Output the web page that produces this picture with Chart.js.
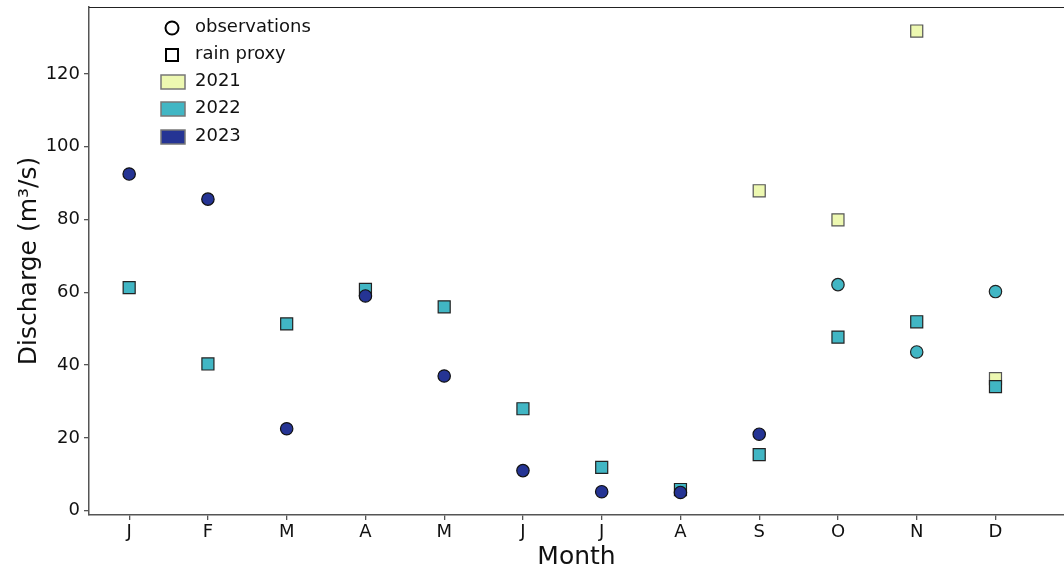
<!DOCTYPE html>
<html>
<head>
<meta charset="utf-8">
<script src="https://cdn.jsdelivr.net/npm/chart.js@4"></script>
<style>
  html, body { margin: 0; padding: 0; background: #fff; }
  #wrap { width: 1064px; height: 572px; }
</style>
</head>
<body>
<div id="wrap"><canvas id="myChart"></canvas></div>
<script>
// data
const months = ["J", "F", "M", "A", "M", "J", "J", "A", "S", "O", "N", "D"];
const yTicks = [0, 20, 40, 60, 80, 100, 120];

// observations (circles): month index -> value
const obs2023Months = [0, 1, 2, 3, 4, 5, 6, 7, 8];
const obs2023 = [92.5, 85.6, 22.5, 59.0, 37.0, 11.0, 5.2, 5.0, 21.0];
const obs2022Months = [9, 10, 11];
const obs2022 = [62.1, 43.6, 60.2];

// rain proxy (squares)
const rain2022Months = [0, 1, 2, 3, 4, 5, 6, 7, 8, 9, 10, 11];
const rain2022 = [61.3, 40.3, 51.3, 60.8, 56.0, 28.0, 11.9, 5.8, 15.4, 47.7, 51.9, 34.1];
const rain2021Months = [8, 9, 10, 11];
const rain2021 = [87.9, 79.9, 131.8, 36.3];

const yearColors = { "2021": "#edf8b1", "2022": "#41b6c4", "2023": "#253494" };
const fontFamily = "'DejaVu Sans', Verdana, sans-serif";
const axisColor = "#555";

function pts(xs, ys) {
  return xs.map((x, i) => ({ x: x, y: ys[i] }));
}

// frame round the plot area (top edge)
const framePlugin = {
  id: "frame",
  afterDraw(chart) {
    const a = chart.chartArea;
    const c = chart.ctx;
    c.save();
    c.strokeStyle = "#222";
    c.lineWidth = 1.2;
    c.beginPath();
    c.moveTo(a.left, a.top + 0.5);
    c.lineTo(a.right, a.top + 0.5);
    c.stroke();
    c.restore();
  },
};

// legend drawn inside the plot, top left
const legendPlugin = {
  id: "insideLegend",
  afterDraw(chart) {
    const c = chart.ctx;
    c.save();
    c.font = "18px " + fontFamily;
    c.fillStyle = "#111";
    c.textBaseline = "middle";
    c.textAlign = "left";
    const tx = 195;

    // observations
    c.strokeStyle = "#000";
    c.lineWidth = 2;
    c.beginPath();
    c.arc(172, 28, 6.5, 0, Math.PI * 2);
    c.stroke();
    c.fillText("observations", tx, 27);

    // rain proxy
    c.strokeRect(166, 49, 12, 12);
    c.fillText("rain proxy", tx, 54);

    // years
    const years = ["2021", "2022", "2023"];
    const ys = [82, 109, 137];
    c.lineWidth = 1.5;
    c.strokeStyle = "#777";
    years.forEach((yr, i) => {
      c.fillStyle = yearColors[yr];
      c.fillRect(161, ys[i] - 7, 24, 14);
      c.strokeRect(161, ys[i] - 7, 24, 14);
      c.fillStyle = "#111";
      c.fillText(yr, tx, ys[i] - 1);
    });
    c.restore();
  },
};

const ctx = document.getElementById("myChart").getContext("2d");

new Chart(ctx, {
  type: "scatter",
  data: {
    datasets: [
      {
        label: "rain proxy 2021",
        data: pts(rain2021Months, rain2021),
        pointStyle: "rect",
        pointRadius: 8.5,
        backgroundColor: yearColors["2021"],
        borderColor: "#555",
        borderWidth: 1.2,
        order: 4,
      },
      {
        label: "rain proxy 2022",
        data: pts(rain2022Months, rain2022),
        pointStyle: "rect",
        pointRadius: 8.5,
        backgroundColor: yearColors["2022"],
        borderColor: "#222",
        borderWidth: 1.2,
        order: 3,
      },
      {
        label: "observations 2022",
        data: pts(obs2022Months, obs2022),
        pointStyle: "circle",
        pointRadius: 6.2,
        backgroundColor: yearColors["2022"],
        borderColor: "#222",
        borderWidth: 1.2,
        order: 2,
      },
      {
        label: "observations 2023",
        data: pts(obs2023Months, obs2023),
        pointStyle: "circle",
        pointRadius: 6.2,
        backgroundColor: yearColors["2023"],
        borderColor: "#111",
        borderWidth: 1.2,
        order: 1,
      },
    ],
  },
  options: {
    responsive: true,
    maintainAspectRatio: false,
    animation: false,
    layout: { autoPadding: false, padding: { top: 7, right: 0, left: 0, bottom: 0 } },
    plugins: {
      legend: { display: false },
      tooltip: { enabled: false },
    },
    scales: {
      x: {
        type: "linear",
        min: -0.51,
        max: 11.87,
        afterBuildTicks(scale) {
          scale.ticks = months.map((m, i) => ({ value: i }));
        },
        afterFit(scale) {
          scale.height = 57;
          scale.paddingLeft = 0;
          scale.paddingRight = 0;
        },
        ticks: {
          callback: (v) => months[v],
          color: "#111",
          font: { family: fontFamily, size: 18 },
          padding: 2,
          maxRotation: 0,
          autoSkip: false,
        },
        grid: { display: true, drawOnChartArea: false, tickLength: 5, color: axisColor, lineWidth: 1.3 },
        border: { display: true, color: axisColor, width: 1.5 },
        title: {
          display: true,
          text: "Month",
          color: "#111",
          font: { family: fontFamily, size: 25 },
          padding: { top: 0, bottom: 0 },
        },
      },
      y: {
        min: -1.2,
        max: 138.4,
        afterBuildTicks(scale) {
          scale.ticks = yTicks.map((v) => ({ value: v }));
        },
        afterFit(scale) {
          scale.width = 89;
          scale.paddingTop = 0;
          scale.paddingBottom = 0;
        },
        ticks: {
          color: "#111",
          font: { family: fontFamily, size: 18 },
          padding: 4,
        },
        grid: { display: true, drawOnChartArea: false, tickLength: 5, color: axisColor, lineWidth: 1.3 },
        border: { display: true, color: axisColor, width: 1.5 },
        title: {
          display: true,
          text: "Discharge (m³/s)",
          color: "#111",
          font: { family: fontFamily, size: 25 },
          padding: { top: 14, bottom: 4 },
        },
      },
    },
  },
  plugins: [framePlugin, legendPlugin],
});
</script>
</body>
</html>
